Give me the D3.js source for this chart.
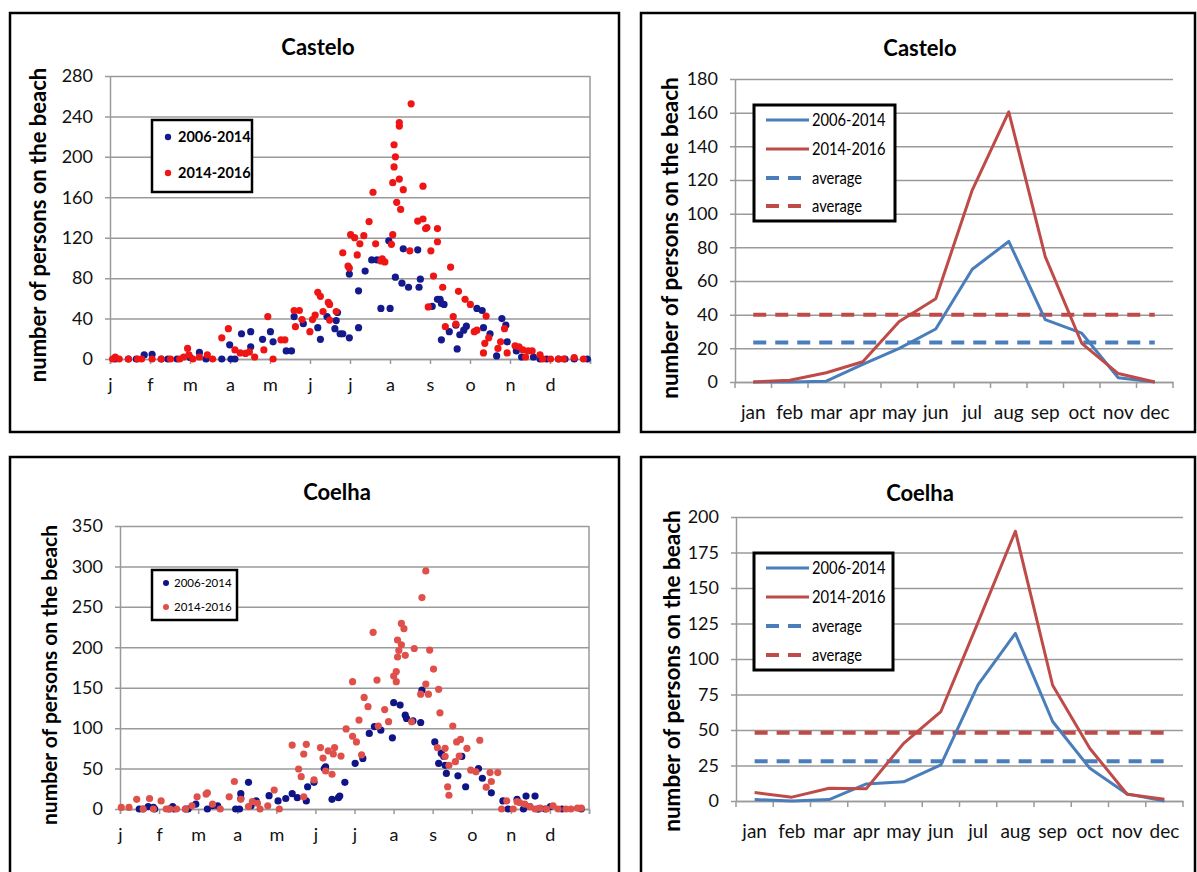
<!DOCTYPE html>
<html>
<head>
<meta charset="utf-8">
<script src="https://cdn.jsdelivr.net/npm/d3@7"></script>
<style>
  body { margin: 0; background: #fff; }
  svg { display: block; font-family: Lato, "Open Sans", sans-serif; }
</style>
</head>
<body>
<svg id="chart" width="1197" height="872"></svg>
<script>
// ---- data ----
const monthLetters = ["j","f","m","a","m","j","j","a","s","o","n","d"];
const monthNames = ["jan","feb","mar","apr","may","jun","jul","aug","sep","oct","nov","dec"];
const seriesNames = ["2006-2014","2014-2016"];

// [day of year, persons]
const casteloDaily0614 = [[4,0],[14,0],[20,0],[26,4],[32,4.5],[39,0],[44,0],[51,0],[61,1.5],[68,6.5],[73,0],[85,0],[91,14],[92,0],[95,0],[100,25],[107,27],[107,12],[116,19.5],[122,27],[124,17],[134,8],[138,8],[140,42],[147,35],[158,31],[160,19.5],[165,42],[171,30],[172,38],[173,46],[175,25],[177,25],[182,21],[182,84],[189,67.5],[189,31],[194,87],[199,98],[203,98],[206,50],[212,117],[213,50],[217,81],[222,75],[223,109],[227,71],[234,108],[235,71],[236,79],[245,52],[249,59],[251,59],[252,55],[254,54],[252,19],[258,27],[263,33.5],[264,10],[266,24],[271,32.5],[269,28.5],[279,50],[283,48],[284,31],[289,25],[294,3],[298,40],[301,33.5],[302,17],[309,8],[313,2],[322,2],[327,0],[332,0],[341,0],[346,0],[353,0],[363,0]];
const casteloDaily1416 = [[2,0],[4,2],[7,0],[14,0],[21,0],[24,0],[32,0],[39,0],[46,0],[53,0],[56,2],[59,10.5],[60,4],[63,0],[68,2],[74,4],[78,0],[85,21],[90,30],[95,9],[99,6],[103,5.5],[106,7],[110,2],[117,9],[120,42],[124,0],[130,19],[133,19],[140,48],[141,32],[144,48],[146,39],[152,27],[154,39],[156,43.5],[158,66],[160,62],[162,47],[166,56],[167,38.5],[167,54],[172,47],[177,105],[181,92],[182,90],[183,123],[186,120],[188,103],[190,114],[193,122],[197,136],[200,165],[202,114],[206,97],[207,99],[209,96],[214,113.5],[215,123],[215,174.5],[216,190],[217,200],[216,212],[218,155],[220,178],[220,230.5],[220,234],[221,148],[223,167.5],[228,107],[229,252.5],[234,136.5],[238,138.5],[238,171],[240,129],[241,130],[242,51.5],[244,107],[246,82],[249,129],[249,116],[253,71],[255,32],[259,91],[261,42],[263,34.5],[265,67],[270,59],[274,54],[277,27],[279,28.5],[284,6],[285,15.5],[286,42.5],[288,21],[295,10.5],[297,17],[300,30],[302,6],[308,13],[311,12],[314,9],[316,2],[318,8],[321,8],[327,4],[329,0],[335,0],[341,0],[345,0],[353,1.5],[360,0]];
const coelhaDaily0614 = [[15,0],[18,0],[22,3],[26,2],[27,0],[38,0],[41,3],[42,0],[51,0],[53,0],[59,6],[68,0],[72,4],[76,4],[90,0],[93,0],[94,19],[94,13],[100,33],[102,4],[105,9],[106,10],[116,16.5],[123,10],[129,13],[134,19],[138,14],[145,10],[146,27.5],[151,33],[159,50],[160,52],[165,12],[170,14],[171,16],[175,33],[183,56.5],[189,62.5],[194,93.5],[198,102],[203,97.5],[212,88],[213,131.5],[218,128.5],[222,116],[223,112],[228,109],[234,107],[235,147],[245,83],[248,56.5],[250,69],[252,65],[253,54],[254,44],[263,41],[266,65],[269,27.5],[279,50],[282,38],[289,20],[298,10],[302,0],[309,12],[314,0],[316,16],[319,3],[323,16],[325,0],[326,0],[331,0],[335,3],[344,0],[359,0]];
const coelhaDaily1416 = [[1,2],[7,2],[13,12],[18,0],[23,13],[26,0],[32,10],[36,0],[39,0],[44,0],[51,0],[56,4],[60,15],[67,18.5],[68,20],[72,6],[78,0],[85,15],[89,34],[94,12],[100,3],[103,9],[107,7],[109,0],[115,4],[120,23.5],[124,0],[134,79],[139,49.5],[141,40],[143,68],[145,80],[143,15],[151,36],[156,76],[158,63],[160,47],[162,72],[165,43],[166,68],[167,76],[172,65.5],[176,99],[181,157.5],[181,90],[184,83],[186,110],[188,67],[190,138],[193,126.5],[197,218.5],[200,159.5],[201,102.5],[206,123],[209,108],[213,164.5],[215,170],[215,157.5],[216,209],[216,188],[217,196],[219,229.5],[221,223],[219,203],[222,190],[227,108],[229,198.5],[234,142],[235,261.5],[238,294.5],[238,154.5],[240,142],[241,196.5],[244,173],[247,76],[248,148],[249,119],[253,75],[253,65],[255,27.5],[256,17],[256,54],[259,102.5],[261,58.5],[262,83],[264,65.5],[265,86],[270,75],[273,48],[277,46],[280,85],[285,27],[289,34],[288,45],[294,45],[297,0],[301,10],[306,0],[309,9],[311,8],[315,6],[319,3],[323,0],[327,1],[332,0],[337,4],[341,0],[347,0],[351,0],[356,1],[359,1]];

const casteloMonthly0614 = [0, 0, 0.5, 10.5, 20, 31.5, 67, 83.5, 37, 29, 2.5, 0];
const casteloMonthly1416 = [0, 1, 5.5, 12, 36, 49.5, 114, 160.5, 74.5, 23, 5, 0];
const casteloAverages = [23.5, 40];
const coelhaMonthly0614 = [1, 0, 1, 12, 13.5, 25.5, 82, 118, 56, 23, 5, 0];
const coelhaMonthly1416 = [6, 2.7, 9, 8.7, 40.6, 63, 126, 190, 81.5, 37, 4.8, 1.2];
const coelhaAverages = [28, 48];

const casteloScatterTicks = [0, 40, 80, 120, 160, 200, 240, 280];
const coelhaScatterTicks = [0, 50, 100, 150, 200, 250, 300, 350];
const casteloLineTicks = [0, 20, 40, 60, 80, 100, 120, 140, 160, 180];
const coelhaLineTicks = [0, 25, 50, 75, 100, 125, 150, 175, 200];

// ---- drawing ----
const svg = d3.select("#chart");
const gridColor = "#9a9a9a";
const blue = "#4a7ebb", red = "#be4b48";
const yLabel = "number of persons on the beach";

function frame(b) {
  svg.append("rect")
    .attr("x", b[0]).attr("y", b[1])
    .attr("width", b[2] - b[0]).attr("height", b[3] - b[1])
    .attr("fill", "none").attr("stroke", "#000").attr("stroke-width", 2.5);
}

function titles(o) {
  svg.append("text")
    .attr("x", o.titleX).attr("y", o.titleY)
    .attr("text-anchor", "middle")
    .style("font-size", "22px").style("font-weight", "bold")
    .text(o.title);
  svg.append("text")
    .attr("transform", "translate(" + o.yLabelX + "," + o.yLabelY + ") rotate(-90)")
    .attr("text-anchor", "middle").attr("dy", "0.35em")
    .style("font-size", o.yLabelSize + "px").style("font-weight", "bold")
    .text(yLabel);
}

function yAxis(o, y, right) {
  const g = svg.append("g")
    .attr("transform", "translate(" + o.left + ",0)")
    .call(d3.axisLeft(y).tickValues(o.yTicks).tickSizeInner(-(right - o.left)).tickSizeOuter(0).tickPadding(17));
  g.select(".domain").attr("stroke", gridColor).attr("stroke-width", 1.5);
  g.selectAll(".tick line").attr("x1", -5).attr("stroke", gridColor).attr("stroke-width", 1.5);
  g.selectAll(".tick text").style("font-size", "18px").style("font-family", "Lato, sans-serif").attr("fill", "#111");
}

function scatterPanel(o) {
  frame(o.frame);
  titles(o);
  const x = d3.scaleLinear().domain([0, 365]).range([o.left, o.right]);
  const y = d3.scaleLinear().domain([0, o.yTicks[o.yTicks.length - 1]]).range([o.bottom, o.top]);
  yAxis(o, y, o.right);
  // right border of plot area
  svg.append("line").attr("x1", o.right).attr("x2", o.right).attr("y1", o.top).attr("y2", o.bottom)
    .attr("stroke", gridColor).attr("stroke-width", 1.5);
  const gx = svg.append("g")
    .attr("transform", "translate(0," + o.bottom + ")")
    .call(d3.axisBottom(x).tickValues(d3.range(13).map(i => i * 365 / 12)).tickSize(5).tickPadding(o.xPad)
      .tickFormat((d, i) => monthLetters[i] || ""));
  gx.select(".domain").attr("stroke", gridColor).attr("stroke-width", 1.5);
  gx.selectAll(".tick line").attr("stroke", gridColor).attr("stroke-width", 1.5);
  gx.selectAll(".tick text").style("font-size", "18px").style("font-family", "Lato, sans-serif").attr("fill", "#111");

  o.series.forEach(s => {
    svg.append("g").selectAll("circle").data(s.data).join("circle")
      .attr("cx", d => x(d[0])).attr("cy", d => y(d[1]))
      .attr("r", 3.6).attr("fill", s.color);
  });

  const L = o.legend;
  svg.append("rect").attr("x", L.box[0]).attr("y", L.box[1])
    .attr("width", L.box[2] - L.box[0]).attr("height", L.box[3] - L.box[1])
    .attr("fill", "#fff").attr("stroke", "#000").attr("stroke-width", 2.5);
  o.series.forEach((s, i) => {
    svg.append("circle").attr("cx", L.dotX).attr("cy", L.rows[i]).attr("r", L.r).attr("fill", s.color);
    svg.append("text").attr("x", L.textX).attr("y", L.rows[i]).attr("dy", "0.36em")
      .style("font-size", L.fontSize + "px").style("font-weight", L.weight)
      .text(seriesNames[i]);
  });
}

function linePanel(o) {
  frame(o.frame);
  titles(o);
  const x = d3.scaleBand().domain(monthNames).range([o.left, o.right]);
  const y = d3.scaleLinear().domain([0, o.yTicks[o.yTicks.length - 1]]).range([o.bottom, o.top]);
  yAxis(o, y, o.right);
  const gx = svg.append("g")
    .attr("transform", "translate(0," + o.bottom + ")")
    .call(d3.axisBottom(x).tickSize(0).tickPadding(o.xPad).tickSizeOuter(0));
  gx.select(".domain").attr("stroke", gridColor).attr("stroke-width", 1.5);
  gx.selectAll(".tick text").style("font-size", "19px").style("font-family", "Lato, sans-serif").attr("fill", "#111");
  gx.selectAll(".bound").data(d3.range(13)).join("line")
    .attr("x1", i => o.left + i * x.step()).attr("x2", i => o.left + i * x.step())
    .attr("y1", 0).attr("y2", 6).attr("stroke", gridColor).attr("stroke-width", 1.5);

  const cx = (d, i) => x(monthNames[i]) + x.bandwidth() / 2;
  const line = d3.line().x(cx).y(d => y(d));
  const avgLine = d3.line().x(d => x(d[0]) + x.bandwidth() / 2).y(d => y(d[1]));
  const colors = [blue, red];
  o.averages.forEach((a, i) => {
    svg.append("path")
      .attr("d", avgLine([[monthNames[0], a], [monthNames[11], a]]))
      .attr("fill", "none").attr("stroke", colors[i]).attr("stroke-width", 4)
      .attr("stroke-dasharray", "13,9");
  });
  o.monthly.forEach((m, i) => {
    svg.append("path").attr("d", line(m))
      .attr("fill", "none").attr("stroke", colors[i]).attr("stroke-width", 3)
      .attr("stroke-linejoin", "round");
  });

  const L = o.legend;
  svg.append("rect").attr("x", L.box[0]).attr("y", L.box[1])
    .attr("width", L.box[2] - L.box[0]).attr("height", L.box[3] - L.box[1])
    .attr("fill", "#fff").attr("stroke", "#000").attr("stroke-width", 3);
  const items = [
    {label: seriesNames[0], color: blue, dash: null},
    {label: seriesNames[1], color: red, dash: null},
    {label: "average", color: blue, dash: "13,9"},
    {label: "average", color: red, dash: "13,9"}
  ];
  items.forEach((it, i) => {
    svg.append("line").attr("x1", L.lineX[0]).attr("x2", L.lineX[1])
      .attr("y1", L.rows[i]).attr("y2", L.rows[i])
      .attr("stroke", it.color).attr("stroke-width", it.dash ? 4 : 3)
      .attr("stroke-dasharray", it.dash);
    // condensed look of the original legend text
    svg.append("text")
      .attr("transform", "translate(" + L.textX + "," + L.rows[i] + ") scale(0.84,1)")
      .attr("dy", "0.36em")
      .style("font-size", "17.5px")
      .text(it.label);
  });
}

scatterPanel({
  frame: [10, 13, 619, 432], left: 110, right: 590, top: 76, bottom: 359,
  yTicks: casteloScatterTicks, xPad: 14,
  title: "Castelo", titleX: 318, titleY: 55,
  yLabelX: 38, yLabelY: 225, yLabelSize: 22,
  series: [{data: casteloDaily0614, color: "#141a8c"}, {data: casteloDaily1416, color: "#f01515"}],
  legend: {box: [152, 120, 252, 192], dotX: 168, textX: 178, rows: [137, 173], r: 3.2, fontSize: 14.5, weight: "bold"}
});

linePanel({
  frame: [641, 13, 1195, 432], left: 735, right: 1173, top: 79, bottom: 382,
  yTicks: casteloLineTicks, xPad: 24,
  title: "Castelo", titleX: 920, titleY: 56,
  yLabelX: 670, yLabelY: 238, yLabelSize: 22.5,
  monthly: [casteloMonthly0614, casteloMonthly1416], averages: casteloAverages,
  legend: {box: [754, 105, 895, 221], lineX: [766, 809], textX: 812, rows: [120, 149, 178, 206]}
});

scatterPanel({
  frame: [10, 457, 619, 895], left: 120, right: 589, top: 526, bottom: 809,
  yTicks: coelhaScatterTicks, xPad: 14,
  title: "Coelha", titleX: 337, titleY: 500,
  yLabelX: 50, yLabelY: 675, yLabelSize: 21,
  series: [{data: coelhaDaily0614, color: "#0f1486"}, {data: coelhaDaily1416, color: "#e0504b"}],
  legend: {box: [152, 570, 237, 620], dotX: 166, textX: 174, rows: [583, 607], r: 3, fontSize: 11.5, weight: "normal"}
});

linePanel({
  frame: [641, 457, 1195, 895], left: 736, right: 1183, top: 517, bottom: 801,
  yTicks: coelhaLineTicks, xPad: 24,
  title: "Coelha", titleX: 920, titleY: 501,
  yLabelX: 672, yLabelY: 671, yLabelSize: 22.5,
  monthly: [coelhaMonthly0614, coelhaMonthly1416], averages: coelhaAverages,
  legend: {box: [754, 553, 893, 670], lineX: [766, 809], textX: 812, rows: [568, 597, 626, 655]}
});
</script>
</body>
</html>
